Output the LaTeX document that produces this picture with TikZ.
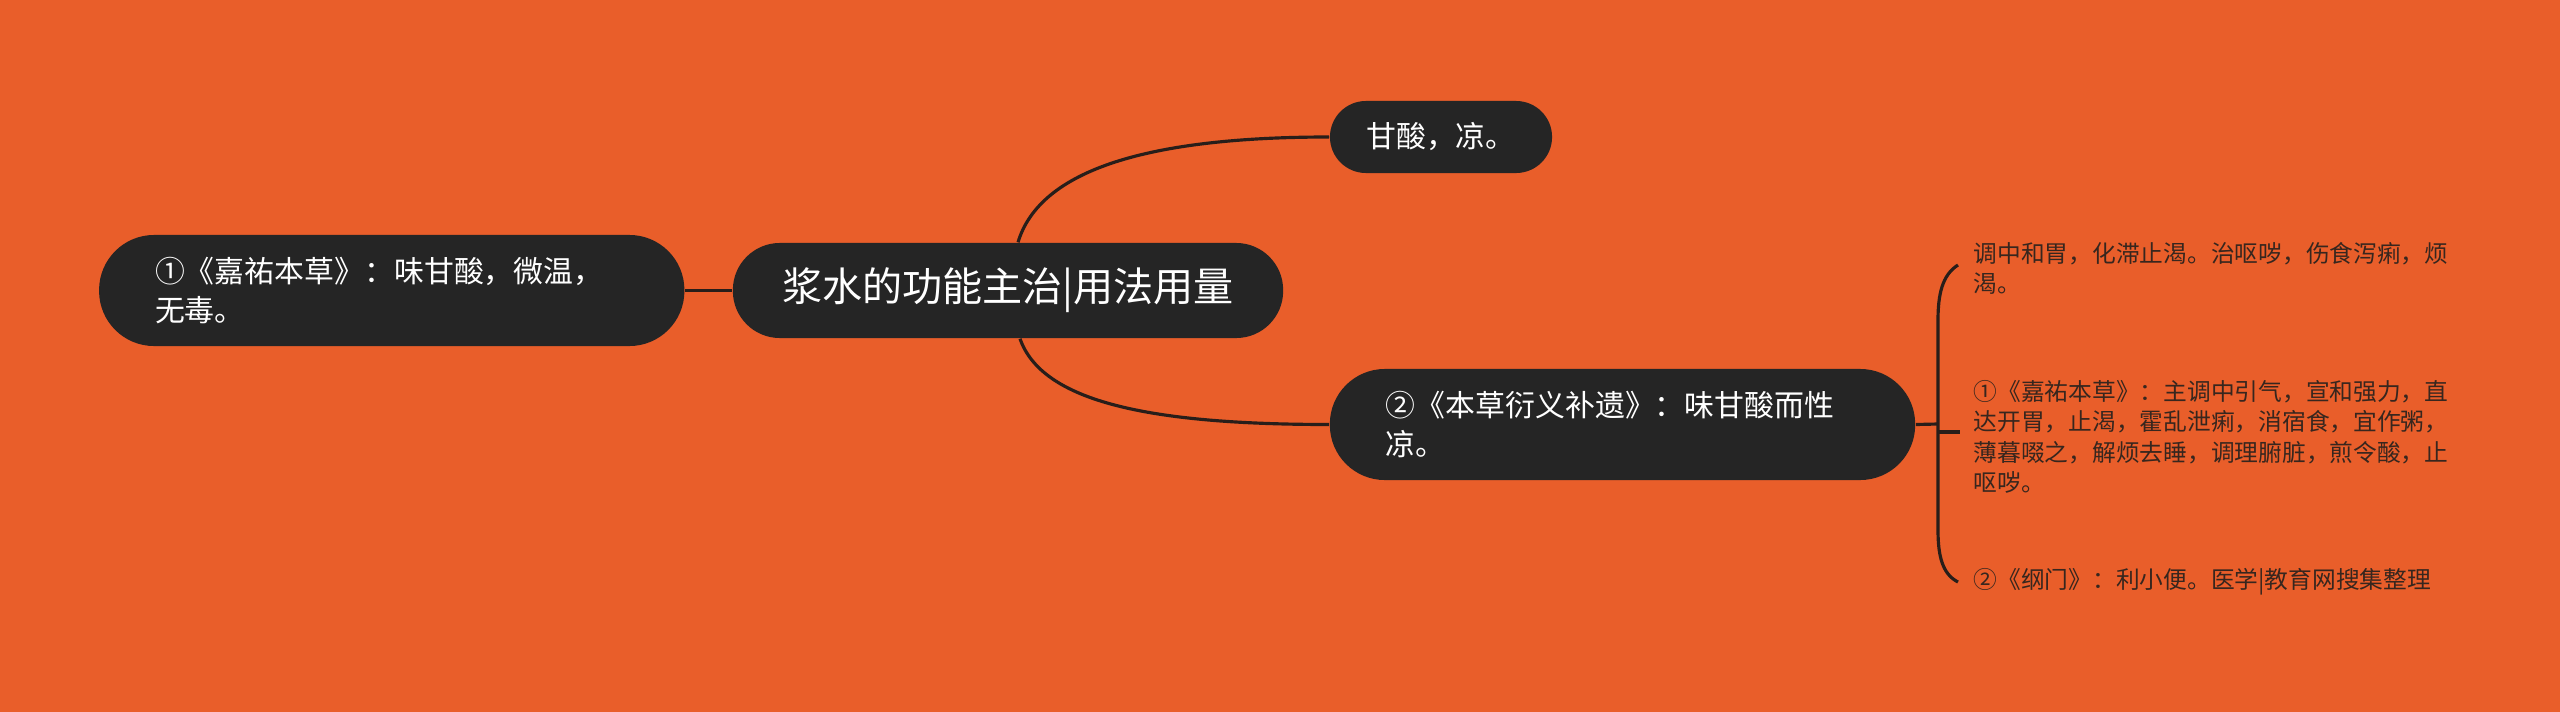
\documentclass[tikz,border=0pt]{standalone}
\usepackage{fontspec}
\setmainfont{Noto Sans CJK SC}
\usetikzlibrary{positioning}
\definecolor{bgorange}{RGB}{233,94,42}
\definecolor{pilldark}{RGB}{37,37,37}
\definecolor{linedark}{RGB}{40,30,26}
\definecolor{leaftext}{RGB}{55,38,30}

\begin{document}
\begin{tikzpicture}[x=0.01cm,y=-0.01cm,
	link/.style={draw=linedark,line width=0.9pt},
	hub/.style={fill=pilldark,text=white,rounded corners=0.47cm,minimum width=5.5cm,minimum height=0.95cm,inner sep=0pt,font=\fontsize{11.4pt}{14pt}\selectfont},
	branch/.style={fill=pilldark,text=white,rounded corners=0.55cm,minimum height=1.11cm,text width=4.73cm,align=left,inner xsep=0.56cm,inner ysep=0pt,font=\fontsize{8.5pt}{11pt}\selectfont},
	tip/.style={fill=pilldark,text=white,rounded corners=0.36cm,minimum width=2.22cm,minimum height=0.72cm,inner sep=0pt,font=\fontsize{8.5pt}{11pt}\selectfont},
	leaf/.style={anchor=west,inner sep=0pt,text=leaftext,align=left,font=\fontsize{6.75pt}{8.6pt}\selectfont}]

			\fill	[bgorange]	(0,0) rectangle (2560,712);

			\node	[hub]		(hub)	at (1008,290.5)			{浆水的功能主治|用法用量};
			\node	[branch]	(jiayou)	[left=0.47cm of hub]	{①《嘉祐本草》：味甘酸，微温，\\无毒。};
			\node	[tip]		(ganly)	at (1441,137)			{甘酸，凉。};
			\node	[branch]	(yanyi)	at (1622.5,424.5)		{②《本草衍义补遗》：味甘酸而性\\凉。};

			\node	[leaf]	(leafA)	at (1973,268)	{调中和胃，化滞止渴。治呕哕，伤食泻痢，烦\\渴。};
			\node	[leaf]	(leafB)	at (1973,437)	{①《嘉祐本草》：主调中引气，宣和强力，直\\达开胃，止渴，霍乱泄痢，消宿食，宜作粥，\\薄暮啜之，解烦去睡，调理腑脏，煎令酸，止\\呕哕。};
			\node	[leaf]	(leafC)	at (1973,582)	{②《纲门》：利小便。医学|教育网搜集整理};

			\coordinate	(fork)	at (1938,424);

			\path	[link]
				(jiayou)	edge	(hub)
				(yanyi.east)	edge	(fork)
			;
			\draw	[link]	([xshift=0.1cm]hub.north) .. controls +(22,-73) and +(-180,0) .. (ganly.west);
			\draw	[link]	([xshift=0.12cm]hub.south) .. controls +(22,63) and +(-180,0) .. (yanyi.west);
			\draw	[link]	([xshift=-0.15cm,yshift=0.03cm]leafA.west) .. controls +(-16,10) and +(0,-25) .. (fork |- 0,320) -- (fork |- 0,530) .. controls +(0,25) and +(-16,-8) .. ([xshift=-0.15cm]leafC.west);
			\draw	[link]	([yshift=-0.08cm]fork) -- ++(22,0);
		\end{tikzpicture}
\end{document}
